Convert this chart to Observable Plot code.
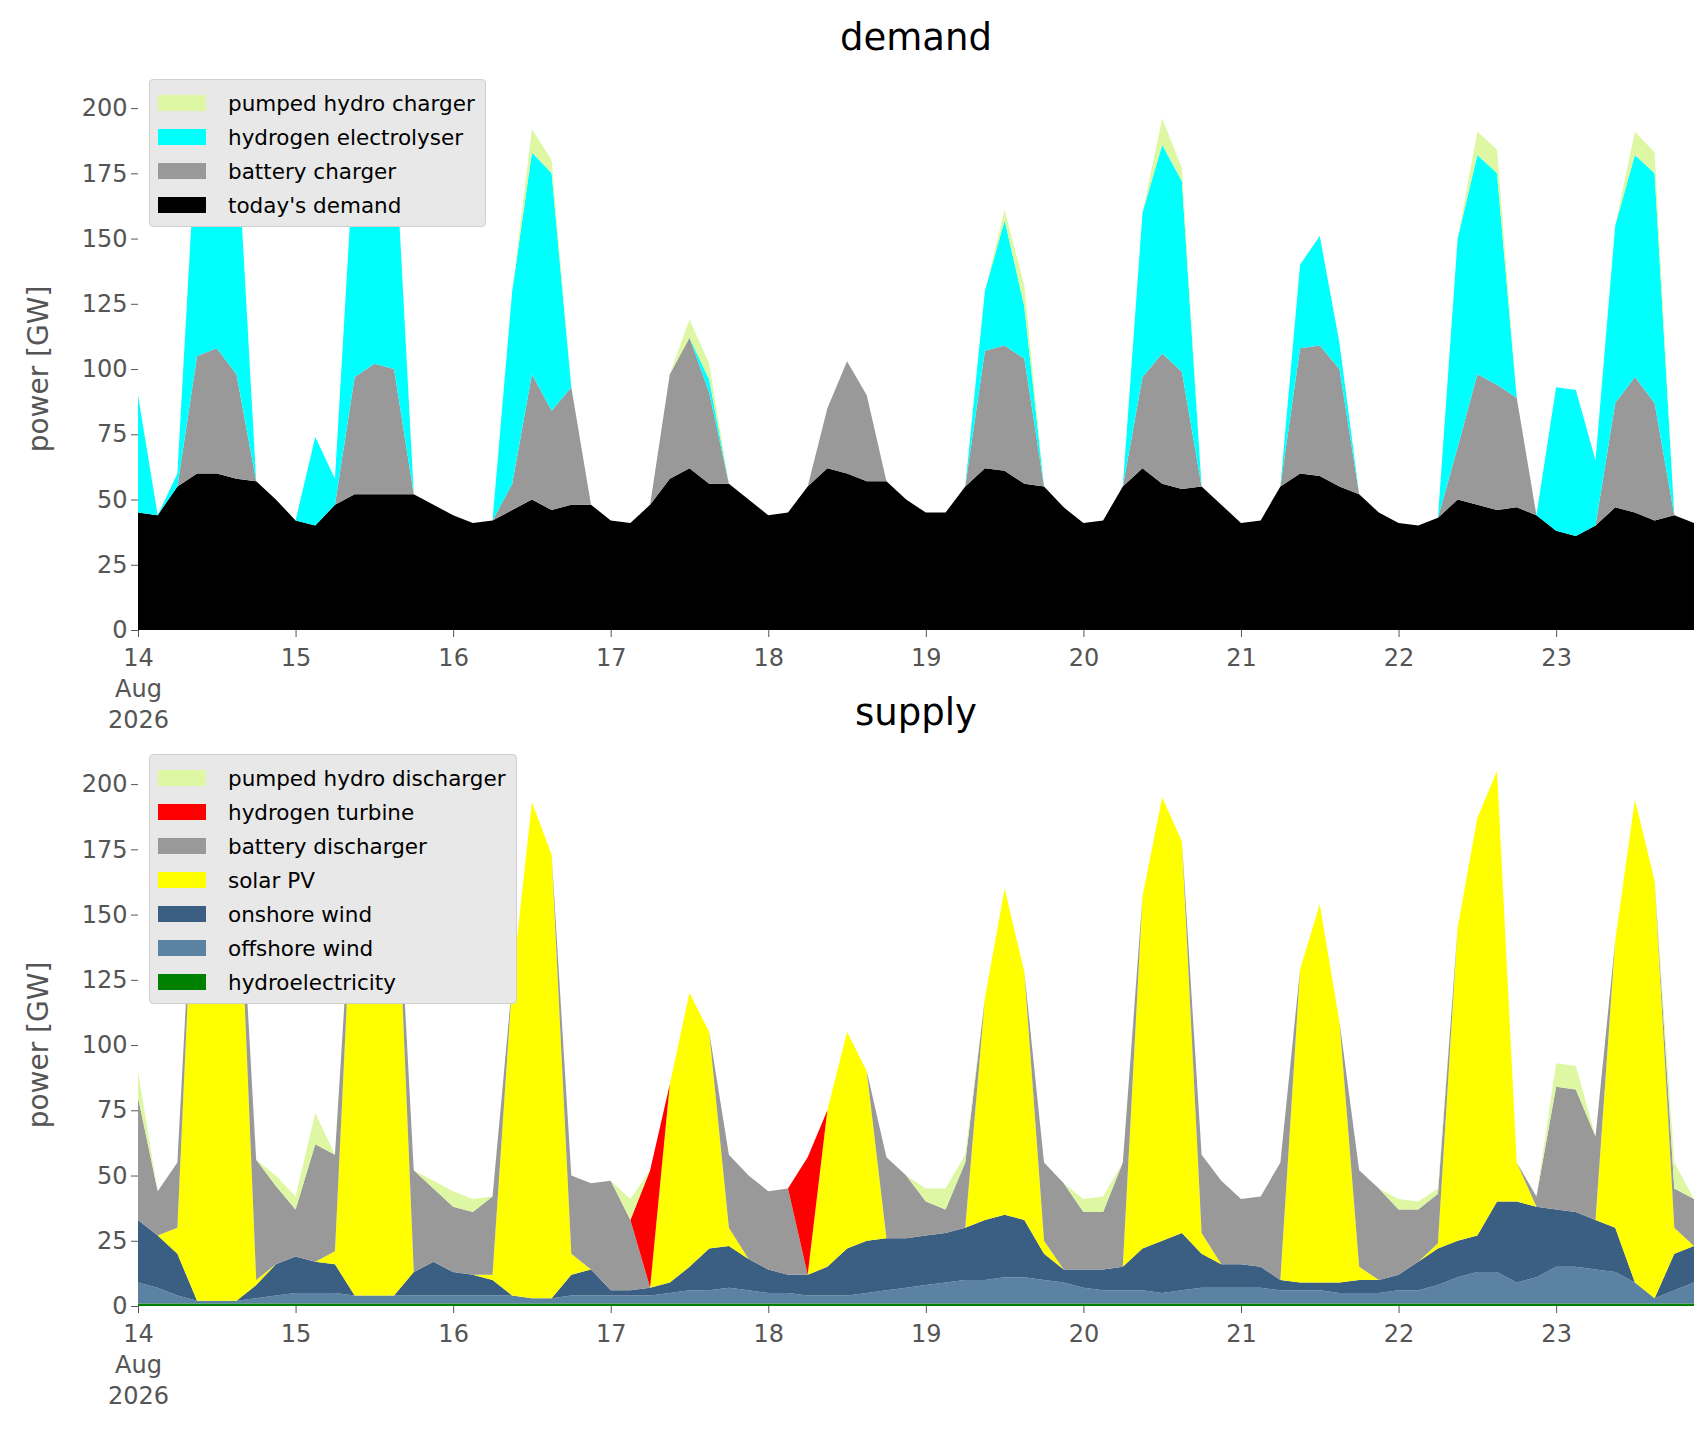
<!DOCTYPE html>
<html><head><meta charset="utf-8">
<script src="https://cdn.jsdelivr.net/npm/d3@7"></script>
<script src="https://cdn.jsdelivr.net/npm/@observablehq/plot@0.6"></script>
<style>
body{margin:0;background:#fff;font-family:"DejaVu Sans",sans-serif;width:1706px;height:1431px;position:relative;overflow:hidden}
.panel{position:absolute;left:0}
.title{position:absolute;width:1556px;left:138px;text-align:center;font-size:37px;color:#000;z-index:5;line-height:44px}
.ylab{position:absolute;left:38px;font-size:28px;color:#555;transform:translate(-50%,-50%) rotate(-90deg);white-space:nowrap;z-index:5}
.legend{position:absolute;background:#e8e8e8;border:1px solid #d0d0d0;border-radius:4px;padding:6px 10px 4px 8px;font-size:21.5px;z-index:5}
.legend div{display:flex;align-items:center;height:34px}
.legend span.sw{display:inline-block;width:48px;height:16px;margin-right:22px}
</style></head><body>
<div class="title" style="top:16px">demand</div>
<div class="title" style="top:691px">supply</div>
<div class="ylab" style="top:369px">power [GW]</div>
<div class="ylab" style="top:1045px">power [GW]</div>
<div id="p1" class="panel" style="top:65px"></div>
<div id="p2" class="panel" style="top:740px"></div>
<div id="l1" class="legend" style="left:149px;top:79px"></div>
<div id="l2" class="legend" style="left:149px;top:754px"></div>
<script>
// 3-hourly values, one row per day (14..23 Aug 2026), hours 0,3,...,21
const todaysDemand=[[45,44,55,60,60,58,57,50],[42,40,48,52,52,52,52,48],[44,41,42,46,50,46,48,48],[42,41,48,58,62,56,56,50],[44,45,55,62,60,57,57,50],[45,45,55,62,61,56,55,47],[41,42,55,62,56,54,55,48],[41,42,55,60,59,55,52,45],[41,40,43,50,48,46,47,44],[38,36,40,47,45,42,44,41]];
const batteryCharger=[[0,0,0,45,48,40,0,0],[0,0,0,45,50,48,0,0],[0,0,0,10,48,38,45,0],[0,0,0,40,50,35,0,0],[0,0,0,23,43,33,0,0],[0,0,0,45,48,48,0,0],[0,0,0,35,50,45,0,0],[0,0,0,48,50,45,0,0],[0,0,0,20,50,48,42,0],[0,0,0,40,52,45,0,0]];
const electrolyser=[[45,0,5,90,92,95,0,0],[0,34,10,90,94,95,0,0],[0,0,0,74,85,91,0,0],[0,0,0,0,0,5,0,0],[0,0,0,0,0,0,0,0],[0,0,0,23,48,20,0,0],[0,0,0,63,80,73,0,0],[0,0,0,32,42,10,0,0],[0,0,0,80,84,81,0,0],[55,56,25,68,85,88,0,0]];
const pumpedCharger=[[0,0,0,0,5,0,0,0],[0,0,0,0,0,0,0,0],[0,0,0,0,9,5,0,0],[0,0,0,0,7,6,0,0],[0,0,0,0,0,0,0,0],[0,0,0,0,4,8,0,0],[0,0,0,0,10,5,0,0],[0,0,0,0,0,0,0,0],[0,0,0,0,9,9,0,0],[0,0,0,0,9,8,0,0]];

const hydro=[[1,1,1,1,1,1,1,1],[1,1,1,1,1,1,1,1],[1,1,1,1,1,1,1,1],[1,1,1,1,1,1,1,1],[1,1,1,1,1,1,1,1],[1,1,1,1,1,1,1,1],[1,1,1,1,1,1,1,1],[1,1,1,1,1,1,1,1],[1,1,1,1,1,1,1,1],[1,1,1,1,1,1,1,1]];
const offshore=[[8,6,3,1,1,1,2,3],[4,4,4,3,3,3,3,3],[3,3,3,3,2,2,3,3],[3,3,3,4,5,5,6,5],[4,4,3,3,3,4,5,6],[7,8,9,9,10,10,9,8],[6,5,5,5,4,5,6,6],[6,6,5,5,5,4,4,4],[5,5,7,10,12,12,8,10],[14,14,13,12,8,2,5,8]];
const onshore=[[24,20,16,0,0,0,5,12],[14,12,11,0,0,0,9,13],[9,8,6,0,0,0,8,10],[2,2,3,4,9,16,16,12],[9,7,8,11,18,20,20,19],[19,19,20,23,24,22,10,5],[7,8,9,16,20,22,13,9],[9,8,4,3,3,4,5,5],[6,11,14,14,14,27,31,27],[22,21,19,17,0,0,14,14]];
const solar=[[0,0,10,195,198,190,2,0],[0,0,5,175,195,190,0,0],[0,0,2,120,190,170,8,0],[0,0,0,76,105,83,7,0],[0,0,0,60,83,65,0,0],[0,0,0,85,125,95,5,0],[0,0,0,135,170,150,8,0],[0,0,0,120,145,100,5,0],[0,0,2,120,160,165,15,0],[0,0,0,110,185,160,10,0]];
const batteryDischarger=[[47,17,25,0,0,0,46,30],[18,45,37,0,0,0,39,28],[25,24,30,0,0,0,30,33],[42,27,0,0,0,0,28,32],[30,33,0,0,0,0,31,24],[13,9,25,0,0,0,30,33],[22,22,40,0,0,0,30,32],[25,27,45,0,0,0,37,35],[25,20,19,0,0,0,0,4],[47,47,32,0,0,0,15,18]];
const hydrogenTurbine=[[0,0,0,0,0,0,0,0],[0,0,0,0,0,0,0,0],[0,0,0,0,0,0,0,0],[0,0,45,0,0,0,0,0],[0,0,45,0,0,0,0,0],[0,0,0,0,0,0,0,0],[0,0,0,0,0,0,0,0],[0,0,0,0,0,0,0,0],[0,0,0,0,0,0,0,0],[0,0,0,0,0,0,0,0]];
const pumpedDischarger=[[10,0,0,0,0,0,0,4],[5,12,0,0,0,0,0,3],[6,5,0,0,0,0,0,0],[0,8,0,0,0,0,0,0],[0,0,0,0,0,0,0,0],[5,8,3,0,0,0,0,0],[5,6,0,0,0,0,0,0],[0,0,0,0,0,0,0,0],[4,3,2,0,0,0,0,0],[9,9,0,0,0,0,10,0]];

const yTicks=[0,25,50,75,100,125,150,175,200];
const hours=[0,3,6,9,12,15,18,21];
const demandSeries=[["today's demand",todaysDemand,"#000000"],["battery charger",batteryCharger,"#999999"],["hydrogen electrolyser",electrolyser,"#00ffff"],["pumped hydro charger",pumpedCharger,"#ddf7a3"]];
const supplySeries=[["hydroelectricity",hydro,"#008000"],["offshore wind",offshore,"#5b82a3"],["onshore wind",onshore,"#3a5f82"],["solar PV",solar,"#ffff00"],["battery discharger",batteryDischarger,"#999999"],["hydrogen turbine",hydrogenTurbine,"#ff0000"],["pumped hydro discharger",pumpedDischarger,"#ddf7a3"]];

function rows(series){
  const out=[];
  series.forEach(([name,arr])=>arr.forEach((day,d)=>day.forEach((v,i)=>out.push({t:new Date(Date.UTC(2026,7,14+d,hours[i])),v,s:name}))));
  return out;
}
const dayTicks=d3.range(14,24).map(d=>new Date(Date.UTC(2026,7,d)));
function chart(series,mt,mb){
  return Plot.plot({
    width:1706,height:680,marginLeft:138,marginRight:12,marginTop:mt,marginBottom:mb,
    style:{fontFamily:"DejaVu Sans",fontSize:"24px",color:"#555",background:"#fff"},
    x:{type:"utc",domain:[new Date(Date.UTC(2026,7,14)),new Date(Date.UTC(2026,7,23,21))]},
    y:{domain:[0,210]},
    color:{domain:series.map(s=>s[0]),range:series.map(s=>s[2])},
    marks:[
      Plot.areaY(rows(series),Plot.stackY({order:series.map(s=>s[0])},{x:"t",y:"v",fill:"s",z:"s"})),
      Plot.axisX({ticks:dayTicks,tickFormat:d=>d.getUTCDate()===14?"14\nAug\n2026":String(d.getUTCDate()),label:null,tickSize:7,tickPadding:6,lineHeight:1.3}),
      Plot.axisY({ticks:yTicks,label:null,tickSize:7,tickPadding:4})
    ]
  });
}
document.getElementById("p1").append(chart(demandSeries,17,115));
document.getElementById("p2").append(chart(supplySeries,18,114));
function legend(id,series){
  const el=document.getElementById(id);
  [...series].reverse().forEach(([n,,c])=>{const r=document.createElement("div");r.innerHTML=`<span class="sw" style="background:${c}"></span>${n}`;el.append(r);});
}
legend("l1",demandSeries);legend("l2",supplySeries);
</script></body></html>
